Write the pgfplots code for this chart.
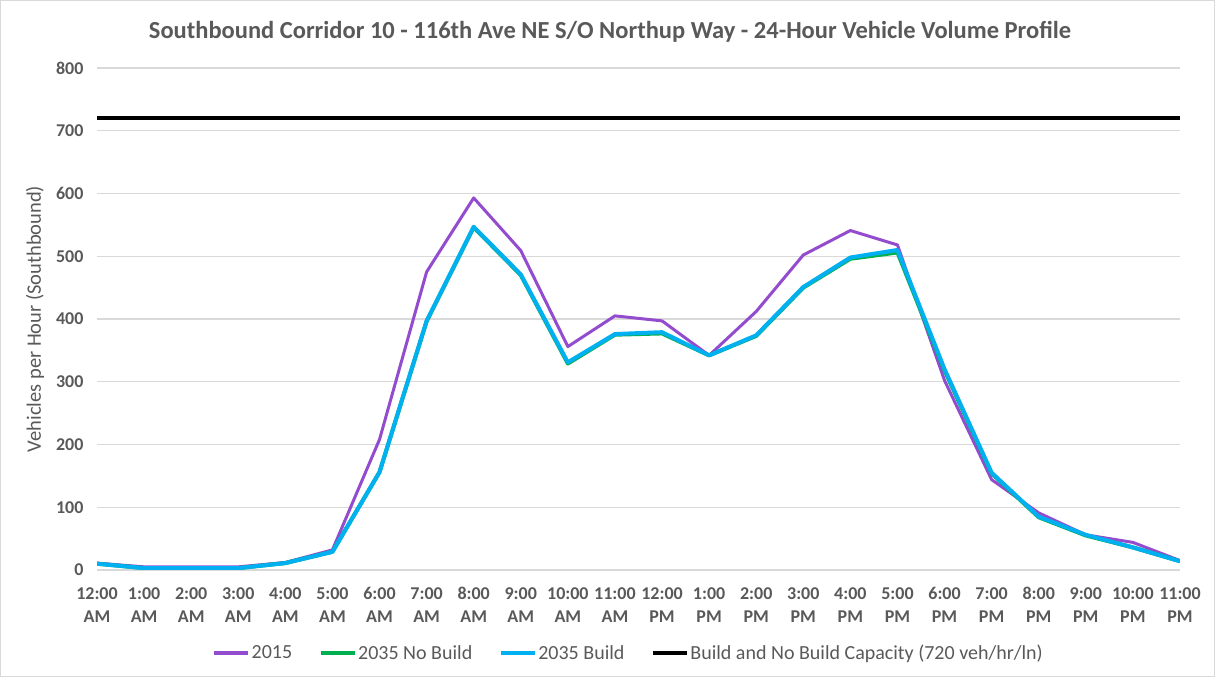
\documentclass[border=0pt]{standalone}
\usepackage{pgfplots}
\pgfplotsset{compat=1.18}
\usepackage{fontspec}
\setmainfont{Carlito}
\definecolor{txt}{HTML}{595959}
\definecolor{gridc}{HTML}{D9D9D9}
\definecolor{c2015}{RGB}{148,76,206}
\definecolor{cnb}{HTML}{00B050}
\definecolor{cb}{HTML}{00B0F0}
\begin{document}
\begin{tikzpicture}[x=1pt,y=1pt]
\useasboundingbox (0,0) rectangle (1215,677);
\draw[line width=1pt,gridc] (0.5,0.5) rectangle (1214.5,676.5);
\node[font=\fontsize{24.5}{28}\selectfont\bfseries,text=txt] at (610,645) {Southbound Corridor 10 - 116th Ave NE S/O Northup Way - 24-Hour Vehicle Volume Profile};
\begin{axis}[
  at={(97pt,107pt)}, anchor=south west,
  scale only axis, width=1083pt, height=502pt,
  xmin=0, xmax=23, ymin=0, ymax=800,
  ytick={0,100,...,800},
  xtick={0,...,23},
  xticklabels={{12:00\\AM},{1:00\\AM},{2:00\\AM},{3:00\\AM},{4:00\\AM},{5:00\\AM},{6:00\\AM},{7:00\\AM},{8:00\\AM},{9:00\\AM},{10:00\\AM},{11:00\\AM},{12:00\\PM},{1:00\\PM},{2:00\\PM},{3:00\\PM},{4:00\\PM},{5:00\\PM},{6:00\\PM},{7:00\\PM},{8:00\\PM},{9:00\\PM},{10:00\\PM},{11:00\\PM}},
  axis line style={draw=none},
  major tick length=0pt,
  tick style={draw=none},
  xmajorgrids=false,
  ymajorgrids=true, grid style={line width=1.3pt,gridc},
  /pgf/number format/assume math mode=true,
  yticklabel style={font=\fontsize{18}{21}\selectfont\bfseries,text=txt,xshift=-10pt},
  xticklabel style={font=\fontsize{18}{23}\selectfont\bfseries,text=txt,align=center,yshift=-14pt},
  ylabel={Vehicles per Hour (Southbound)},
  every axis y label/.style={at={(axis description cs:0,0.5)},xshift=-62pt,rotate=90,anchor=center,font=\fontsize{20.5}{24}\selectfont,text=txt},
  legend columns=4,
  legend style={at={(axis description cs:0.4905,-0.165)},anchor=center,draw=none,fill=none,
    font=\fontsize{20}{24}\selectfont,text=txt,
    /tikz/every even column/.append style={column sep=25pt},
    nodes={inner sep=1.5pt}},
  legend image code/.code={\draw[#1,line width=4pt] (0pt,0pt) -- (34pt,0pt);},
]
\addplot[c2015,line width=3pt,line join=round] coordinates {(0,11)(1,5)(2,5)(3,5)(4,12)(5,32)(6,208)(7,475)(8,593)(9,509)(10,356)(11,405)(12,397)(13,342)(14,412)(15,502)(16,541)(17,518)(18,302)(19,144)(20,91)(21,56)(22,44)(23,15)};
\addlegendentry{2015}
\addplot[cnb,line width=4pt,line join=round] coordinates {(0,10)(1,3)(2,3)(3,3)(4,11)(5,29)(6,156)(7,396)(8,546)(9,470)(10,329)(11,375)(12,377)(13,342)(14,373)(15,450)(16,496)(17,506)(18,318)(19,154)(20,84)(21,55)(22,36)(23,14)};
\addlegendentry{2035 No Build}
\addplot[cb,line width=4pt,line join=round] coordinates {(0,10)(1,3)(2,3)(3,3)(4,11)(5,29)(6,156)(7,397)(8,547)(9,471)(10,331)(11,376)(12,379)(13,342)(14,374)(15,451)(16,498)(17,510)(18,320)(19,155)(20,85)(21,56)(22,36)(23,14)};
\addlegendentry{2035 Build}
\addplot[black,line width=4pt] coordinates {(0,720)(23,720)};
\addlegendentry{Build and No Build Capacity (720 veh/hr/ln)}
\end{axis}
\end{tikzpicture}
\end{document}
